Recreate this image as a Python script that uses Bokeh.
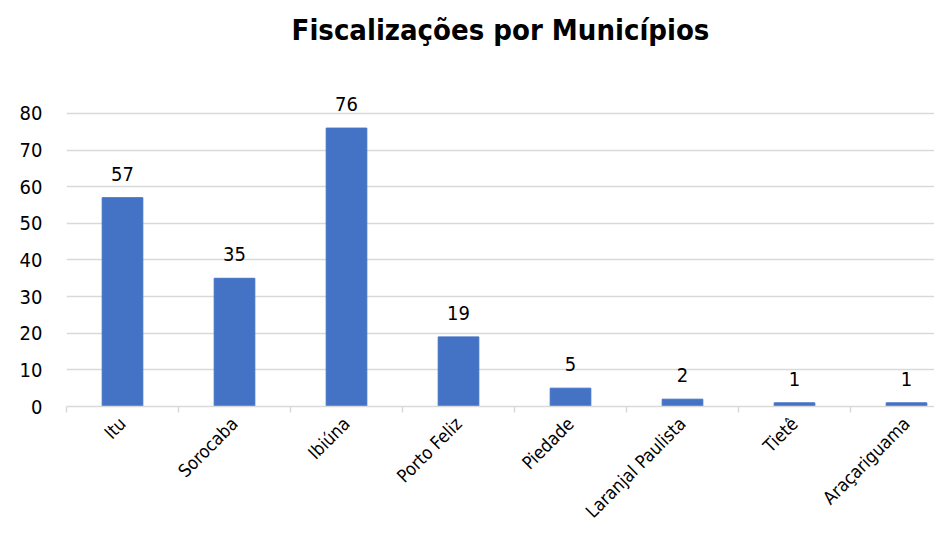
import numpy as np
from bokeh.plotting import figure
from bokeh.models import ColumnDataSource, LabelSet, Range1d, FixedTicker
from bokeh.core.properties import value
from bokeh.embed import file_html
from bokeh.resources import INLINE

municipios = ["Itu", "Sorocaba", "Ibiúna", "Porto Feliz", "Piedade",
              "Laranjal Paulista", "Tietê", "Araçariguama"]
fiscalizacoes = [57, 35, 76, 19, 5, 2, 1, 1]
y_ticks = [0, 10, 20, 30, 40, 50, 60, 70, 80]
title_text = "Fiscalizações por Municípios"

FONT = "DejaVu Sans Condensed"
x_pos = list(np.arange(len(municipios)) + 0.5)

src = ColumnDataSource(dict(x=x_pos, y=fiscalizacoes,
                            label=[str(v) for v in fiscalizacoes]))

p = figure(width=934, height=532, output_backend="svg", toolbar_location=None,
           x_range=Range1d(0, 7.75), y_range=Range1d(0, 86.26),
           min_border_left=66, min_border_right=0, min_border_top=90,
           min_border_bottom=125)

p.title.text = title_text + "\n"
p.title.text_font = FONT
p.title.text_font_size = "29px"
p.title.text_font_style = "bold"
p.title.align = "center"
p.title.vertical_align = "top"
p.title.text_color = "black"
p.title.offset = 0
p.title.standoff = 15

p.vbar(x="x", top="y", width=0.363, bottom=0, source=src, color="#4472C4")

labels = LabelSet(x="x", y="y", text="label", source=src, y_offset=24,
                  text_align="center", text_baseline="middle",
                  text_font=value(FONT), text_font_size="20px", text_color="black")
p.add_layout(labels)

p.outline_line_color = None
p.background_fill_color = "white"
p.border_fill_color = "white"

# Y axis
p.yaxis.ticker = FixedTicker(ticks=y_ticks)
p.yaxis.axis_line_color = None
p.yaxis.major_tick_line_color = None
p.yaxis.minor_tick_line_color = None
p.yaxis.major_label_text_font = FONT
p.yaxis.major_label_text_font_size = "20px"
p.yaxis.major_label_text_color = "black"
p.yaxis.major_label_standoff = 18

p.ygrid.ticker = FixedTicker(ticks=y_ticks)
p.ygrid.grid_line_color = "#d9d9d9"
p.ygrid.grid_line_width = 1.5
p.xgrid.grid_line_color = None

# X axis
p.xaxis.ticker = FixedTicker(ticks=x_pos, minor_ticks=list(range(len(municipios) + 1)))
p.xaxis.major_label_overrides = {float(x): m for x, m in zip(x_pos, municipios)}
p.xaxis.major_tick_line_color = None
p.xaxis.minor_tick_line_color = "#d9d9d9"
p.xaxis.minor_tick_line_width = 1.5
p.xaxis.minor_tick_out = 6
p.xaxis.minor_tick_in = 0
p.xaxis.axis_line_color = "#d9d9d9"
p.xaxis.axis_line_width = 1.5
p.xaxis.major_label_orientation = np.pi / 4
p.xaxis.major_label_text_font = FONT
p.xaxis.major_label_text_font_size = "18px"
p.xaxis.major_label_text_color = "black"
p.xaxis.major_label_standoff = 8

open("out.html", "w").write(file_html(p, INLINE))
